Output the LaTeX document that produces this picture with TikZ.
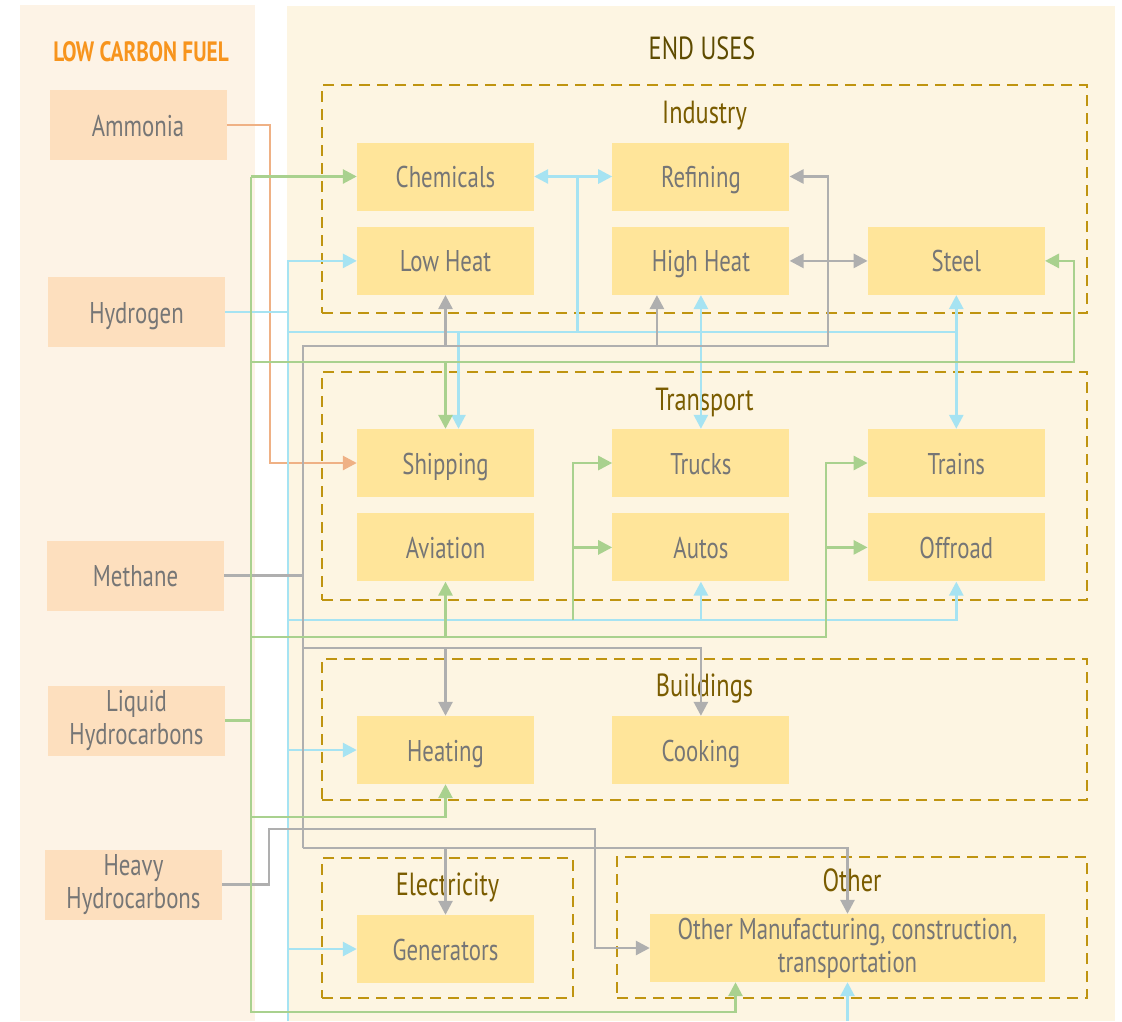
\documentclass[tikz,border=0pt]{standalone}
\usepackage{fontspec}
\setmainfont{PT Sans}[FakeStretch=0.76]
\usetikzlibrary{arrows.meta,positioning,calc}
\definecolor{fuelpanel}{HTML}{FDF3E6}
\definecolor{usepanel}{HTML}{FDF5E2}
\definecolor{fuel}{HTML}{FDDFBE}
\definecolor{enduse}{HTML}{FFE59A}
\definecolor{frame}{HTML}{BF9410}
\definecolor{ink}{HTML}{767676}
\definecolor{heading}{HTML}{7A5C00}
\definecolor{headdark}{HTML}{5E4B00}
\definecolor{fuelhead}{HTML}{F7941D}
\definecolor{hgreen}{HTML}{A9D18E}
\definecolor{hblue}{HTML}{A6E3F2}
\definecolor{hgray}{HTML}{AFAFAF}
\definecolor{horange}{HTML}{EFB185}
\tikzset{
  >={Triangle[length=14pt,width=14pt]},
  every node/.style={font=\fontsize{30}{33}\selectfont,text=ink},
  base/.style={minimum width=177pt,minimum height=68pt,align=center,inner sep=2pt},
  box/.style={base,fill=enduse,text height=22pt,text depth=0pt},
  fuelbox/.style={box,fill=fuel,minimum height=70pt},
  fuelpair/.style={base,fill=fuel,minimum height=70pt},
  mfgbox/.style={base,fill=enduse,minimum width=395pt},
  sector/.style={draw=frame,dash pattern=on 11pt off 7pt,line width=2.8pt,inner sep=0pt},
  sectortitle/.style={font=\fontsize{32}{34}\selectfont,text=heading,anchor=base},
  link/.style={line width=2.8pt},
  nh3/.style={link,draw=horange},
  h2/.style={link,draw=hblue},
  ch4/.style={link,draw=hgray},
  liquid/.style={link,draw=hgreen},
}

\begin{document}
\begin{tikzpicture}[x=1pt,y=-1pt,node distance=16pt and 78pt]
\useasboundingbox (0,0) rectangle (1122,1021);
\fill[white] (0,0) rectangle (1122,1021);
\fill[fuelpanel] (20,5) rectangle (255,1021);
\fill[usepanel] (287,6) rectangle (1115,1021);

% headings
\node[font=\fontsize{28}{30}\selectfont\bfseries,text=fuelhead,anchor=base] (fueltitle) at (141,61) {LOW CARBON FUEL};
\node[font=\fontsize{32}{34}\selectfont,text=headdark,anchor=base] (usetitle) at (702,59) {END USES};

% left: fuels
\node[fuelbox] (ammonia) at (138,125) {Ammonia};
\node[fuelbox] (hydrogen) at (136.5,312) {Hydrogen};
\node[fuelbox] (methane) at (135.5,575.5) {Methane};
\node[fuelpair] (liquidhc) at (136.5,720.5) {Liquid\\Hydrocarbons};
\node[fuelpair] (heavyhc) at (133.5,884.5) {Heavy\\Hydrocarbons};

% right: sectors
\node[sector,minimum width=765pt,minimum height=228pt] (industry) at (704.5,199) {};
\node[sector,minimum width=765pt,minimum height=228pt] (transport) at (704.5,486) {};
\node[sector,minimum width=765pt,minimum height=141pt] (buildings) at (704.5,729.5) {};
\node[sector,minimum width=251pt,minimum height=140pt] (electricity) at (447.5,928) {};
\node[sector,minimum width=470pt,minimum height=141pt] (other) at (852,927.5) {};
\node[sectortitle] (industrytitle) at ([yshift=-40pt]industry.north) {Industry};
\node[sectortitle] (transporttitle) at ([yshift=-40pt]transport.north) {Transport};
\node[sectortitle] (buildingstitle) at ([yshift=-39pt]buildings.north) {Buildings};
\node[sectortitle] (electricitytitle) at ([yshift=-39pt]electricity.north) {Electricity};
\node[sectortitle] (othertitle) at ([yshift=-36pt]other.north) {Other};

% end uses
\node[box] (chemicals) at (445.5,176.5) {Chemicals};
\node[box,below=of chemicals] (lowheat) {Low Heat};
\node[box,right=of chemicals] (refining) {Refining};
\node[box,below=of refining] (highheat) {High Heat};
\node[box,right=of highheat] (steel) {Steel};
\node[box] (shipping) at (445.5,463) {Shipping};
\node[box,below=of shipping] (aviation) {Aviation};
\node[box,right=of shipping] (trucks) {Trucks};
\node[box,below=of trucks] (autos) {Autos};
\node[box,right=of trucks] (trains) {Trains};
\node[box,below=of trains] (offroad) {Offroad};
\node[box] (heating) at (445.5,750) {Heating};
\node[box,right=of heating] (cooking) {Cooking};
\node[box] (generators) at (445.5,949) {Generators};
\node[mfgbox] (othermfg) at (847.5,948) {Other Manufacturing, construction,\\transportation};

% buses and tracks
\coordinate (gbus) at (251,0);
\coordinate (abus) at (270,0);
\coordinate (hhbus) at (269,0);
\coordinate (hbus) at (288,0);
\coordinate (mbus) at (303,0);
\coordinate (kbus) at (573,0);
\coordinate (obus) at (595,0);
\coordinate (tbus) at (826,0);
\coordinate (rbus) at (828,0);
\coordinate (sbus) at (1074,0);
\coordinate (t1) at (0,332);
\coordinate (t2) at (0,346);
\coordinate (t3) at (0,362);
\coordinate (t4) at (0,620);
\coordinate (t5) at (0,637);
\coordinate (t6) at (0,648);
\coordinate (t7) at (0,817);
\coordinate (t8) at (0,829);
\coordinate (t9) at (0,848);
\coordinate (t10) at (0,1012);
\coordinate (bottom) at (0,1021);
\coordinate (cr) at ($(chemicals.east)!0.56!(refining.west)$);
\coordinate (shipin) at ([xshift=13pt]shipping.north);
\coordinate (hhin) at ([xshift=-44pt]highheat.south);
\coordinate (othin) at ([xshift=-112pt]othermfg.south);

% ammonia
\draw[nh3,->] (ammonia.east) -| (abus |- shipping.west) -- (shipping.west);

% hydrogen
\draw[h2] (hydrogen.east) -- (hbus |- hydrogen.east);
\draw[h2,->] (hbus |- bottom) |- (lowheat.west);
\draw[h2,->] (hbus |- t1) -| (steel.south);
\draw[h2,<->] (chemicals.east) -- (refining.west);
\draw[h2] (cr) -- (cr |- t1);
\draw[h2,->] (shipin |- t1) -- (shipin);
\draw[h2,<->] (highheat.south) -- (trucks.north);
\draw[h2,->] (steel.south |- t1) -- (trains.north);
\draw[h2,->] (hbus |- t4) -| (offroad.south);
\draw[h2,->] (autos.south |- t4) -- (autos.south);
\draw[h2,->] (hbus |- heating.west) -- (heating.west);
\draw[h2,->] (hbus |- generators.west) -- (generators.west);
\draw[h2,->] (othermfg.south |- bottom) -- (othermfg.south);

% methane and heavy hydrocarbons
\draw[ch4] (methane.east) -- (mbus |- methane.east);
\draw[ch4,->] (mbus |- t9) -- (mbus |- t2) -| (lowheat.south);
\draw[ch4,->] (lowheat.south |- t2) -| (hhin);
\draw[ch4,->] (hhin |- t2) -| (rbus |- refining.east) -- (refining.east);
\draw[ch4,<->] (highheat.east) -- (steel.west);
\draw[ch4,->] (mbus |- t6) -| (heating.north);
\draw[ch4,->] (heating.north |- t6) -| (cooking.north);
\draw[ch4,->] (mbus |- t9) -| (othermfg.north);
\draw[ch4,->] (generators.north |- t9) -- (generators.north);
\draw[ch4,->] (heavyhc.east) -| (hhbus |- t8) -| (obus |- othermfg.west) -- (othermfg.west);

% liquid hydrocarbons
\draw[liquid] (liquidhc.east) -- (gbus |- liquidhc.east);
\draw[liquid,->] (gbus |- chemicals.west) -- (chemicals.west);
\draw[liquid,->] (gbus |- chemicals.west) |- (othin |- t10) -- (othin);
\draw[liquid,->] (gbus |- t3) -| (sbus |- steel.east) -- (steel.east);
\draw[liquid,->] (shipping.north |- t3) -- (shipping.north);
\draw[liquid,->] (gbus |- t5) -| (aviation.south);
\draw[liquid,->] (aviation.south |- t5) -| (tbus |- offroad.west) -- (offroad.west);
\draw[liquid,->] (tbus |- offroad.west) |- (trains.west);
\draw[liquid,->] (kbus |- t4) |- (trucks.west);
\draw[liquid,->] (kbus |- autos.west) -- (autos.west);
\draw[liquid,->] (gbus |- t7) -| (heating.south);

\end{tikzpicture}
\end{document}
